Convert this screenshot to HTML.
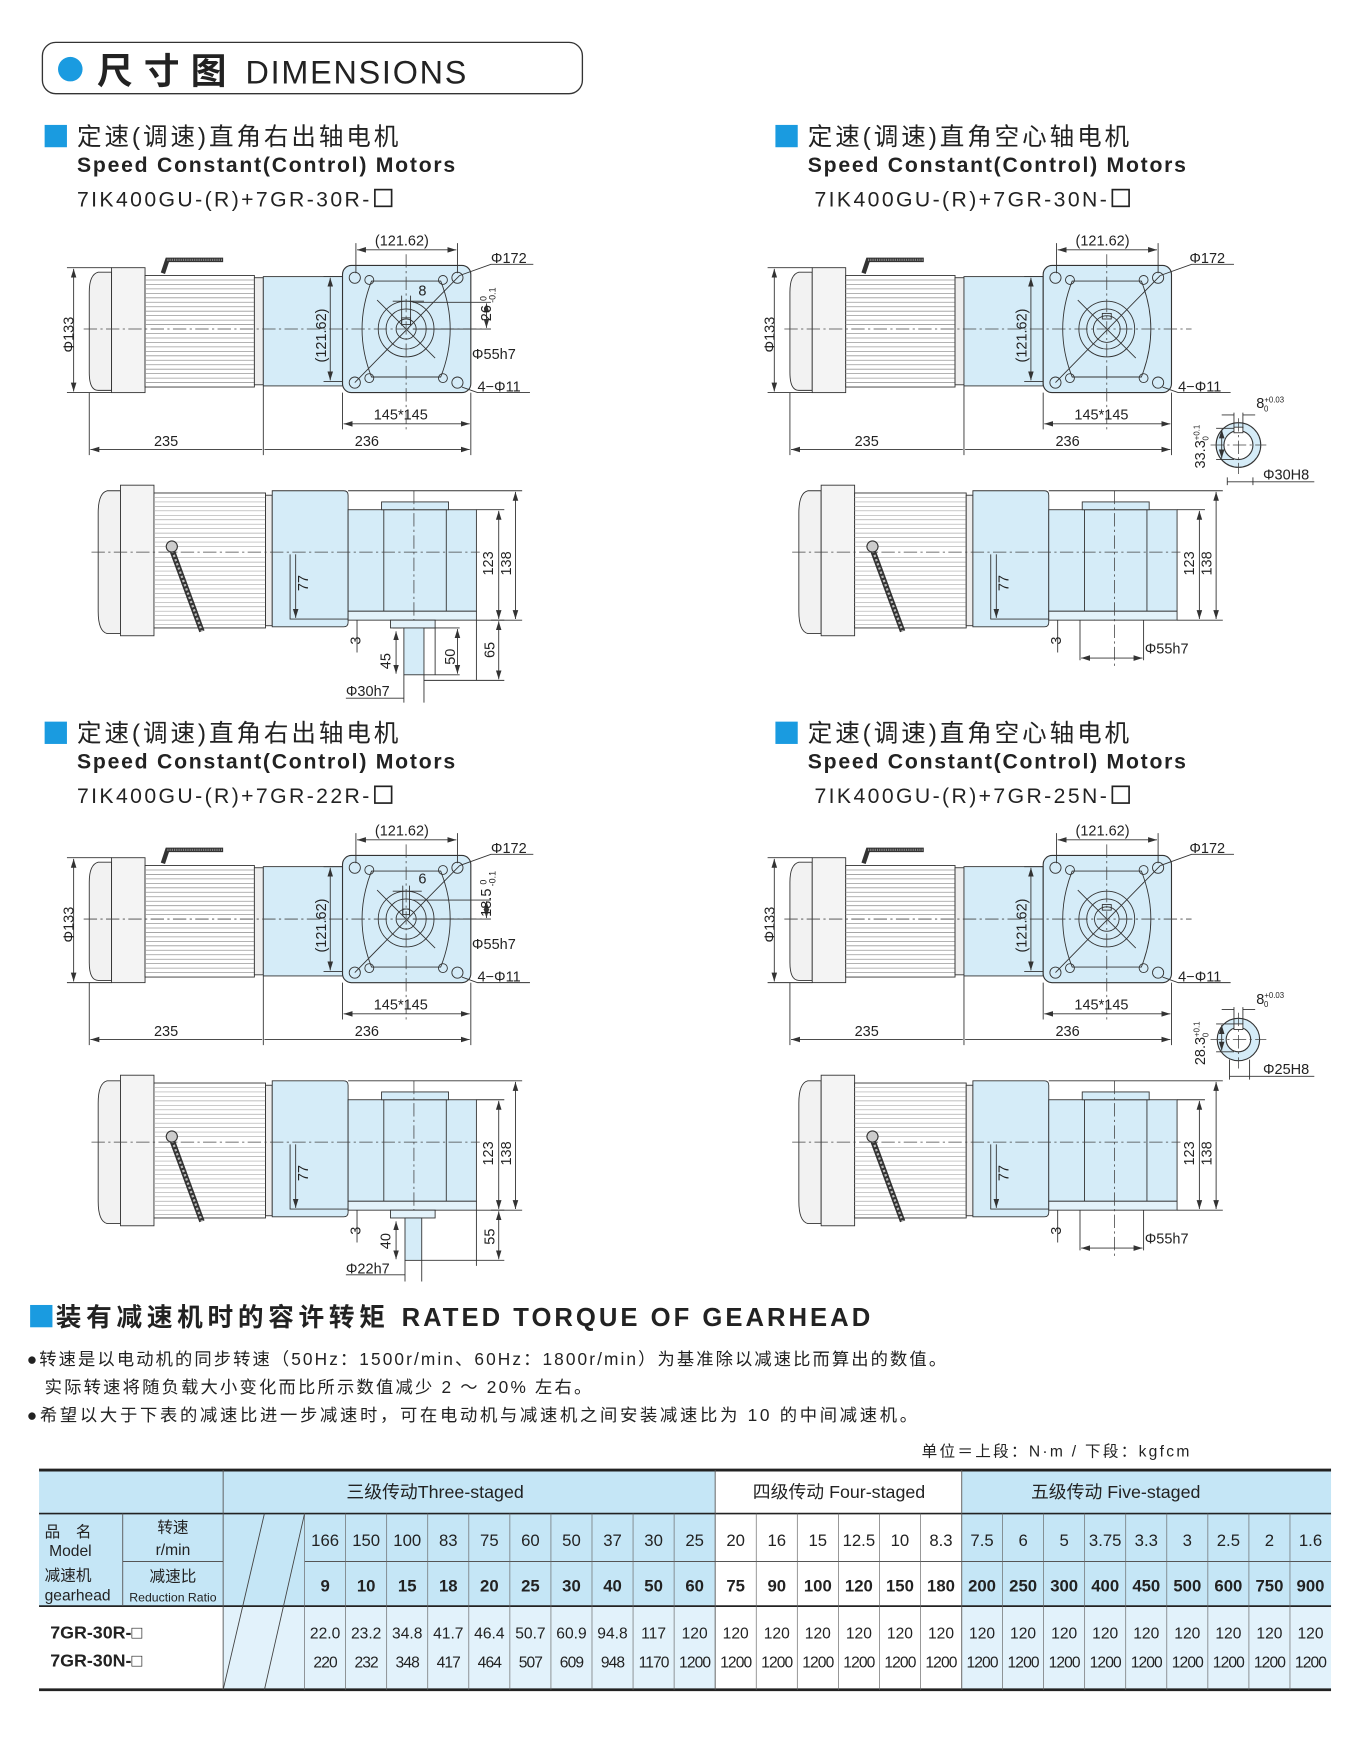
<!DOCTYPE html>
<html><head><meta charset="utf-8"><style>
html,body{margin:0;padding:0;background:#fff}
svg{display:block}
text{font-family:"Liberation Sans","Noto Sans CJK SC",sans-serif;fill:#222}
.d{font-size:13px}
.cn{font-family:"Liberation Sans","Noto Sans CJK SC",sans-serif}
.ln{stroke:#333;stroke-width:0.8;fill:none}
.cl{stroke:#444;stroke-width:0.7;stroke-dasharray:12 3 2 3;fill:none}
.tb{font-size:15px;text-anchor:middle}
</style></head><body>
<svg width="1350" height="1750" viewBox="0 0 1210 1569" preserveAspectRatio="none" xmlns="http://www.w3.org/2000/svg">
<defs>
<marker id="ar" markerWidth="8" markerHeight="6" refX="8" refY="3" orient="auto-start-reverse" markerUnits="userSpaceOnUse"><path d="M0,0.5 L8,3 L0,5.5" fill="#333"/></marker>
<g id="fv">
 <path d="M100,244 L88,244 Q80,246 80,262 L80,334 Q80,350 88,350 L100,350 Z" fill="#f2f2f2" stroke="#333" stroke-width="0.8"/>
 <rect x="100" y="240" width="30" height="112" fill="#f4f4f4" stroke="#333" stroke-width="0.8"/>
 <rect x="130" y="247" width="98" height="100" fill="#fff" stroke="#333" stroke-width="0.8"/>
 <path d="M130,251H228M130,255H228M130,259H228M130,263H228M130,267H228M130,271H228M130,275H228M130,279H228M130,283H228M130,287H228M130,291H228M130,299H228M130,303H228M130,307H228M130,311H228M130,315H228M130,319H228M130,323H228M130,327H228M130,331H228M130,335H228M130,339H228M130,343H228" stroke="#999" stroke-width="0.7"/>
 <rect x="228" y="249" width="8" height="96" fill="#eee" stroke="#333" stroke-width="0.8"/>
 <rect x="236" y="248" width="71" height="98" fill="#d5ecf8" stroke="#333" stroke-width="0.8"/>
 <path d="M146,245 L150,233 L200,233" stroke="#333" stroke-width="4" fill="none"/>
 <path d="M150,233 L200,233" stroke="#888" stroke-width="2" stroke-dasharray="1 1" fill="none"/>
 <rect x="307" y="238" width="115" height="114" rx="8" fill="#d5ecf8" stroke="#333" stroke-width="1"/>
 <path d="M333,252 Q316,295 333,338 L395,338 Q412,295 395,252 Z" class="ln"/>
 <circle cx="318" cy="249" r="5" class="ln"/><circle cx="410" cy="249" r="5" class="ln"/>
 <circle cx="318" cy="343" r="5" class="ln"/><circle cx="410" cy="343" r="5" class="ln"/>
 <circle cx="331" cy="251" r="4" class="ln"/><circle cx="397" cy="251" r="4" class="ln"/>
 <circle cx="331" cy="339" r="4" class="ln"/><circle cx="397" cy="339" r="4" class="ln"/>
 <circle cx="364" cy="295" r="25" class="ln"/><circle cx="364" cy="295" r="18" class="ln"/>
 <path d="M318,343 L412,247" class="ln"/><path d="M338,269 L390,321" class="ln"/>
 <path d="M75,295 H440" class="cl"/><path d="M364,228 V386" class="cl"/>
 <path d="M60,240 H100 M60,352 H100" class="ln"/>
 <path d="M66,241 V351" class="ln" marker-start="url(#ar)" marker-end="url(#ar)"/>
 <path d="M80,352 V408 M236,346 V408 M422,352 V408 M307,352 V385" class="ln"/>
 <path d="M81,403 H235 M237,403 H421" class="ln" marker-start="url(#ar)" marker-end="url(#ar)"/>
 <path d="M308,380 H421" class="ln" marker-start="url(#ar)" marker-end="url(#ar)"/>
 <path d="M319,218 V245 M410,218 V245" class="ln"/>
 <path d="M320,224 H409" class="ln" marker-start="url(#ar)" marker-end="url(#ar)"/>
 <path d="M290,248 H307 M290,342 H307" class="ln"/>
 <path d="M296,249 V341" class="ln" marker-start="url(#ar)" marker-end="url(#ar)"/>
 <path d="M412,247 L440,237 H478" class="ln"/>
 <path d="M414,347 L428,352 H475" class="ln"/>
</g>
<g id="sv">
 <path d="M108,440 L96,440 Q88,442 88,460 L88,548 Q88,566 96,568 L108,568 Z" fill="#f2f2f2" stroke="#333" stroke-width="0.8"/>
 <rect x="108" y="435" width="30" height="135" fill="#f4f4f4" stroke="#333" stroke-width="0.8"/>
 <rect x="138" y="442" width="100" height="121" fill="#fff" stroke="#333" stroke-width="0.8"/>
 <path d="M138,446H238M138,450H238M138,454H238M138,458H238M138,462H238M138,466H238M138,470H238M138,474H238M138,478H238M138,482H238M138,486H238M138,490H238M138,500H238M138,504H238M138,508H238M138,512H238M138,516H238M138,520H238M138,524H238M138,528H238M138,532H238M138,536H238M138,540H238M138,544H238M138,548H238M138,552H238M138,556H238M138,560H238" stroke="#aaa" stroke-width="0.6"/>
 <rect x="238" y="444" width="6" height="117" fill="#eee" stroke="#333" stroke-width="0.8"/>
 <path d="M244,440 H308 Q312,440 312,444 V558 Q312,562 308,562 H244 Z" fill="#d5ecf8" stroke="#333" stroke-width="0.8"/>
 <rect x="312" y="457" width="115" height="91" fill="#d5ecf8" stroke="#333" stroke-width="0.8"/>
 <rect x="342" y="450" width="60" height="7" fill="#d5ecf8" stroke="#333" stroke-width="0.8"/>
 <path d="M344,457 V548 M400,457 V548" class="ln"/>
 <rect x="312" y="548" width="115" height="8" fill="#e3f2fa" stroke="#333" stroke-width="0.8"/>
 <path d="M153,490 L181,566" stroke="#333" stroke-width="5"/>
 <path d="M153,490 L181,566" stroke="#bbb" stroke-width="2" stroke-dasharray="2 2"/>
 <circle cx="154" cy="490" r="5" fill="#ccc" stroke="#333"/>
 <path d="M82,495 H430" class="cl"/><path d="M371,440 V600" class="cl"/>
 <path d="M312,440 H468 M427,457 H452 M427,556 H468" class="ln"/>
 <path d="M447,458 V555" class="ln" marker-start="url(#ar)" marker-end="url(#ar)"/>
 <path d="M462,441 V555" class="ln" marker-start="url(#ar)" marker-end="url(#ar)"/>
 <path d="M260,497 V555 H312" class="ln"/>
 <path d="M265,497 V554" class="ln" marker-end="url(#ar)"/>
 <path d="M320,556 V585" class="ln"/>
</g>
</defs>

<!-- header -->
<rect x="38" y="38" width="484" height="46" rx="12" fill="#fff" stroke="#333" stroke-width="1.2"/>
<circle cx="63" cy="62" r="11" fill="#1a9be0"/>
<text x="87" y="75" class="cn" style="font-size:32px;font-weight:bold" textLength="116">尺寸图</text>
<text x="220" y="75" style="font-size:29px" textLength="198">DIMENSIONS</text>

<!-- section titles -->
<rect x="40" y="112" width="20" height="20" fill="#1a9be0"/>
<text x="69" y="130" class="cn" style="font-size:22px" textLength="288">定速(调速)直角右出轴电机</text>
<text x="69" y="154" style="font-size:19px;font-weight:bold" textLength="339">Speed Constant(Control) Motors</text>
<text x="69" y="185" style="font-size:19px" textLength="262">7IK400GU-(R)+7GR-30R-</text><rect x="336" y="170" width="15" height="15" fill="none" stroke="#222" stroke-width="1.5"/>

<rect x="695" y="112" width="20" height="20" fill="#1a9be0"/>
<text x="724" y="130" class="cn" style="font-size:22px" textLength="288">定速(调速)直角空心轴电机</text>
<text x="724" y="154" style="font-size:19px;font-weight:bold" textLength="339">Speed Constant(Control) Motors</text>
<text x="730" y="185" style="font-size:19px" textLength="262">7IK400GU-(R)+7GR-30N-</text><rect x="997" y="170" width="15" height="15" fill="none" stroke="#222" stroke-width="1.5"/>

<rect x="40" y="647" width="20" height="20" fill="#1a9be0"/>
<text x="69" y="665" class="cn" style="font-size:22px" textLength="288">定速(调速)直角右出轴电机</text>
<text x="69" y="689" style="font-size:19px;font-weight:bold" textLength="339">Speed Constant(Control) Motors</text>
<text x="69" y="720" style="font-size:19px" textLength="262">7IK400GU-(R)+7GR-22R-</text><rect x="336" y="705" width="15" height="15" fill="none" stroke="#222" stroke-width="1.5"/>

<rect x="695" y="647" width="20" height="20" fill="#1a9be0"/>
<text x="724" y="665" class="cn" style="font-size:22px" textLength="288">定速(调速)直角空心轴电机</text>
<text x="724" y="689" style="font-size:19px;font-weight:bold" textLength="339">Speed Constant(Control) Motors</text>
<text x="730" y="720" style="font-size:19px" textLength="262">7IK400GU-(R)+7GR-25N-</text><rect x="997" y="705" width="15" height="15" fill="none" stroke="#222" stroke-width="1.5"/>

<!-- panel 1 top-left -->
<use href="#fv"/>
<circle cx="364" cy="295" r="9" class="ln"/><rect x="360" y="285" width="8" height="6" class="ln"/>
<path d="M352,270 H380 M360,265 V292 M368,265 V292" class="ln"/>
<path d="M370,295 H440 M370,271 H440" class="ln"/>
<path d="M436,272 V294" class="ln" marker-start="url(#ar)" marker-end="url(#ar)"/>
<use href="#sv"/>
<rect x="350" y="556" width="40" height="7" fill="#e3f2fa" stroke="#333" stroke-width="0.8"/>
<rect x="362" y="563" width="18" height="42" fill="#d5ecf8" stroke="#333" stroke-width="0.8"/>
<path d="M362,605 V630 M380,605 V630 M352,563 H360 M380,605 H412 M380,563 H412 M390,563 V605 M427,556 V610 M440,556 H452 M380,610 H452" class="ln"/>
<path d="M355,566 V604" class="ln" marker-start="url(#ar)" marker-end="url(#ar)"/>
<path d="M410,564 V604" class="ln" marker-start="url(#ar)" marker-end="url(#ar)"/>
<path d="M447,557 V609" class="ln" marker-start="url(#ar)" marker-end="url(#ar)"/>
<path d="M310,626 H362" class="ln"/>
<g class="d">
<text x="336" y="220">(121.62)</text>
<text x="440" y="236">Φ172</text>
<text x="423" y="322">Φ55h7</text>
<text x="428" y="351">4−Φ11</text>
<text x="335" y="376">145*145</text>
<text x="138" y="400">235</text>
<text x="318" y="400">236</text>
<text x="375" y="265">8</text>
<text transform="translate(66,316) rotate(-90)">Φ133</text>
<text transform="translate(292,325) rotate(-90)">(121.62)</text>
<text transform="translate(440,288) rotate(-90)">26 <tspan style="font-size:8px" dy="-4">0</tspan><tspan style="font-size:8px" dy="8" dx="-6">-0.1</tspan></text>
<text transform="translate(276,530) rotate(-90)">77</text>
<text transform="translate(442,516) rotate(-90)">123</text>
<text transform="translate(458,516) rotate(-90)">138</text>
<text transform="translate(323,578) rotate(-90)">3</text>
<text transform="translate(350,600) rotate(-90)">45</text>
<text transform="translate(408,596) rotate(-90)">50</text>
<text transform="translate(443,590) rotate(-90)">65</text>
<text x="310" y="624">Φ30h7</text>
</g>

<!-- panel 2 top-right -->
<g transform="translate(628,0)">
<use href="#fv"/>
<circle cx="364" cy="295" r="12" class="ln"/><rect x="360" y="281" width="8" height="5" class="ln"/>
<use href="#sv"/>
<path d="M340,556 V592 M397,556 V592" class="ln"/>
<path d="M341,590 H396" class="ln" marker-start="url(#ar)" marker-end="url(#ar)"/>
</g>
<circle cx="1110" cy="399" r="20" fill="#d5ecf8" stroke="#333"/>
<circle cx="1110" cy="399" r="13" fill="#fff" stroke="#333"/>
<rect x="1106" y="383" width="8" height="5" fill="#fff" stroke="#333" stroke-width="0.8"/>
<path d="M1085,399 H1135 M1110,375 V425" class="cl"/>
<path d="M1090,384 H1106 M1090,412 H1106 M1106,370 V384 M1114,370 V384 M1100,428 V435 M1123,428 V435" class="ln"/>
<path d="M1095,385 V411" class="ln" marker-start="url(#ar)" marker-end="url(#ar)"/>
<path d="M1095,372 H1106 M1114,372 H1125" class="ln"/>
<path d="M1100,432 H1178" class="ln"/>
<g class="d">
<text x="964" y="220">(121.62)</text>
<text x="1066" y="236">Φ172</text>
<text x="1056" y="351">4−Φ11</text>
<text x="963" y="376">145*145</text>
<text x="766" y="400">235</text>
<text x="946" y="400">236</text>
<text transform="translate(694,316) rotate(-90)">Φ133</text>
<text transform="translate(920,325) rotate(-90)">(121.62)</text>
<text x="1126" y="366">8<tspan style="font-size:7px" dy="-5">+0.03</tspan><tspan style="font-size:7px" dy="8" dx="-18">0</tspan></text>
<text transform="translate(1080,420) rotate(-90)">33.3<tspan style="font-size:7px" dy="-5">+0.1</tspan><tspan style="font-size:7px" dy="8" dx="-14">0</tspan></text>
<text x="1132" y="430">Φ30H8</text>
<text transform="translate(904,530) rotate(-90)">77</text>
<text transform="translate(1070,516) rotate(-90)">123</text>
<text transform="translate(1086,516) rotate(-90)">138</text>
<text transform="translate(951,578) rotate(-90)">3</text>
<text x="1026" y="586">Φ55h7</text>
</g>

<!-- panel 3 bottom-left -->
<g transform="translate(0,529)">
<use href="#fv"/>
<circle cx="364" cy="295" r="9" class="ln"/><rect x="361" y="286" width="6" height="5" class="ln"/>
<path d="M352,270 H378 M361,265 V292 M367,265 V292 M370,295 H440 M370,278 H440" class="ln"/>
<path d="M436,279 V294" class="ln" marker-start="url(#ar)" marker-end="url(#ar)"/>
<use href="#sv"/>
<rect x="350" y="556" width="40" height="7" fill="#e3f2fa" stroke="#333" stroke-width="0.8"/>
<rect x="363" y="563" width="15" height="38" fill="#d5ecf8" stroke="#333" stroke-width="0.8"/>
<path d="M363,601 V620 M378,601 V620 M378,601 H452 M427,556 V606 M440,556 H452 M310,614 H363" class="ln"/>
<path d="M355,566 V600" class="ln" marker-start="url(#ar)" marker-end="url(#ar)"/>
<path d="M447,557 V600" class="ln" marker-start="url(#ar)" marker-end="url(#ar)"/>
</g>
<g class="d">
<text x="336" y="749">(121.62)</text>
<text x="440" y="765">Φ172</text>
<text x="423" y="851">Φ55h7</text>
<text x="428" y="880">4−Φ11</text>
<text x="335" y="905">145*145</text>
<text x="138" y="929">235</text>
<text x="318" y="929">236</text>
<text x="375" y="792">6</text>
<text transform="translate(66,845) rotate(-90)">Φ133</text>
<text transform="translate(292,854) rotate(-90)">(121.62)</text>
<text transform="translate(440,822) rotate(-90)">18.5 <tspan style="font-size:8px" dy="-4">0</tspan><tspan style="font-size:8px" dy="8" dx="-6">-0.1</tspan></text>
<text transform="translate(276,1059) rotate(-90)">77</text>
<text transform="translate(442,1045) rotate(-90)">123</text>
<text transform="translate(458,1045) rotate(-90)">138</text>
<text transform="translate(323,1107) rotate(-90)">3</text>
<text transform="translate(350,1120) rotate(-90)">40</text>
<text transform="translate(443,1116) rotate(-90)">55</text>
<text x="310" y="1142">Φ22h7</text>
</g>

<!-- panel 4 bottom-right -->
<g transform="translate(628,529)">
<use href="#fv"/>
<circle cx="364" cy="295" r="11" class="ln"/><rect x="360" y="282" width="8" height="5" class="ln"/>
<use href="#sv"/>
<path d="M340,556 V592 M397,556 V592" class="ln"/>
<path d="M341,590 H396" class="ln" marker-start="url(#ar)" marker-end="url(#ar)"/>
</g>
<circle cx="1110" cy="932" r="19" fill="#d5ecf8" stroke="#333"/>
<circle cx="1110" cy="932" r="11" fill="#fff" stroke="#333"/>
<rect x="1106" y="918" width="8" height="5" fill="#fff" stroke="#333" stroke-width="0.8"/>
<path d="M1085,932 H1135 M1110,908 V958" class="cl"/>
<path d="M1090,918 H1106 M1090,943 H1106 M1106,903 V918 M1114,903 V918 M1102,950 V968 M1120,950 V968" class="ln"/>
<path d="M1095,919 V942" class="ln" marker-start="url(#ar)" marker-end="url(#ar)"/>
<path d="M1095,905 H1106 M1114,905 H1125 M1102,965 H1178" class="ln"/>
<g class="d">
<text x="964" y="749">(121.62)</text>
<text x="1066" y="765">Φ172</text>
<text x="1056" y="880">4−Φ11</text>
<text x="963" y="905">145*145</text>
<text x="766" y="929">235</text>
<text x="946" y="929">236</text>
<text transform="translate(694,845) rotate(-90)">Φ133</text>
<text transform="translate(920,854) rotate(-90)">(121.62)</text>
<text x="1126" y="900">8<tspan style="font-size:7px" dy="-5">+0.03</tspan><tspan style="font-size:7px" dy="8" dx="-18">0</tspan></text>
<text transform="translate(1080,955) rotate(-90)">28.3<tspan style="font-size:7px" dy="-5">+0.1</tspan><tspan style="font-size:7px" dy="8" dx="-14">0</tspan></text>
<text x="1132" y="963">Φ25H8</text>
<text transform="translate(904,1059) rotate(-90)">77</text>
<text transform="translate(1070,1045) rotate(-90)">123</text>
<text transform="translate(1086,1045) rotate(-90)">138</text>
<text transform="translate(951,1107) rotate(-90)">3</text>
<text x="1026" y="1115">Φ55h7</text>
</g>

<!-- torque section -->
<rect x="27" y="1170" width="20" height="20" fill="#1a9be0"/>
<text x="50" y="1189" class="cn" style="font-size:23px;font-weight:bold" textLength="295">装有减速机时的容许转矩</text>
<text x="360" y="1189" style="font-size:23px;font-weight:bold" textLength="420">RATED TORQUE OF GEARHEAD</text>
<g class="cn" style="font-size:15.5px">
<text x="24" y="1224" textLength="824">●转速是以电动机的同步转速（50Hz：1500r/min、60Hz：1800r/min）为基准除以减速比而算出的数值。</text>
<text x="40" y="1249" textLength="490">实际转速将随负载大小变化而比所示数值减少 2 ～ 20% 左右。</text>
<text x="24" y="1274" textLength="798">●希望以大于下表的减速比进一步减速时，可在电动机与减速机之间安装减速比为 10 的中间减速机。</text>
</g>
<text x="826" y="1306" class="cn" style="font-size:14px" textLength="240">单位＝上段：N·m / 下段：kgfcm</text>

<!-- table -->
<rect x="35" y="1318" width="606" height="122" fill="#c5e6f6"/>
<rect x="862" y="1318" width="331" height="122" fill="#c5e6f6"/>
<rect x="200" y="1440" width="441" height="75" fill="#e2f2fb"/>
<rect x="862" y="1440" width="331" height="75" fill="#e2f2fb"/>
<path d="M35,1318 H1193 M35,1515 H1193" stroke="#222" stroke-width="2.5"/>
<path d="M35,1357 H1193 M35,1440 H1193" stroke="#222" stroke-width="1.5"/>
<path d="M110,1400 H200 M273,1400 H1193" stroke="#555" stroke-width="1"/>
<path d="M200,1318 V1515 M641,1318 V1515 M862,1318 V1515 M110,1357 V1440" stroke="#555" stroke-width="0.8"/>
<path d="M237,1357 L200,1515 M273,1357 L237,1515" stroke="#444" stroke-width="0.8"/>
<path d="M273,1357V1515M309.8,1357V1515M346.6,1357V1515M383.4,1357V1515M420.2,1357V1515M457,1357V1515M493.8,1357V1515M530.6,1357V1515M567.4,1357V1515M604.2,1357V1515M677.8,1357V1515M714.6,1357V1515M751.4,1357V1515M788.2,1357V1515M825,1357V1515M898.6,1357V1515M935.4,1357V1515M972.2,1357V1515M1009,1357V1515M1045.8,1357V1515M1082.6,1357V1515M1119.4,1357V1515M1156.2,1357V1515" stroke="#666" stroke-width="0.6"/>
<g class="cn" style="font-size:16px" text-anchor="middle">
<text x="390" y="1343">三级传动Three-staged</text>
<text x="752" y="1343">四级传动 Four-staged</text>
<text x="1000" y="1343">五级传动 Five-staged</text>
</g>
<g class="cn" style="font-size:14px">
<text x="40" y="1378">品　名</text>
<text x="44" y="1395">Model</text>
<text x="40" y="1417">减速机</text>
<text x="40" y="1435">gearhead</text>
<text x="155" y="1374" text-anchor="middle">转速</text>
<text x="155" y="1394" text-anchor="middle">r/min</text>
<text x="155" y="1418" text-anchor="middle">减速比</text>
<text x="155" y="1436" text-anchor="middle" style="font-size:11px">Reduction Ratio</text>
</g>
<g class="tb">
<text x="291.4" y="1386">166</text><text x="328.2" y="1386">150</text><text x="365" y="1386">100</text><text x="401.8" y="1386">83</text><text x="438.6" y="1386">75</text><text x="475.4" y="1386">60</text><text x="512.2" y="1386">50</text><text x="549" y="1386">37</text><text x="585.8" y="1386">30</text><text x="622.6" y="1386">25</text><text x="659.4" y="1386">20</text><text x="696.2" y="1386">16</text><text x="733" y="1386">15</text><text x="769.8" y="1386">12.5</text><text x="806.6" y="1386">10</text><text x="843.4" y="1386">8.3</text><text x="880.2" y="1386">7.5</text><text x="917" y="1386">6</text><text x="953.8" y="1386">5</text><text x="990.6" y="1386">3.75</text><text x="1027.4" y="1386">3.3</text><text x="1064.2" y="1386">3</text><text x="1101" y="1386">2.5</text><text x="1137.8" y="1386">2</text><text x="1174.6" y="1386">1.6</text>
</g>
<g class="tb" style="font-weight:bold">
<text x="291.4" y="1427">9</text><text x="328.2" y="1427">10</text><text x="365" y="1427">15</text><text x="401.8" y="1427">18</text><text x="438.6" y="1427">20</text><text x="475.4" y="1427">25</text><text x="512.2" y="1427">30</text><text x="549" y="1427">40</text><text x="585.8" y="1427">50</text><text x="622.6" y="1427">60</text><text x="659.4" y="1427">75</text><text x="696.2" y="1427">90</text><text x="733" y="1427">100</text><text x="769.8" y="1427">120</text><text x="806.6" y="1427">150</text><text x="843.4" y="1427">180</text><text x="880.2" y="1427">200</text><text x="917" y="1427">250</text><text x="953.8" y="1427">300</text><text x="990.6" y="1427">400</text><text x="1027.4" y="1427">450</text><text x="1064.2" y="1427">500</text><text x="1101" y="1427">600</text><text x="1137.8" y="1427">750</text><text x="1174.6" y="1427">900</text>
</g>
<g style="font-size:16px;font-weight:bold">
<text x="45" y="1469">7GR-30R-□</text>
<text x="45" y="1494">7GR-30N-□</text>
</g>
<g class="tb" style="font-size:14px">
<text x="291.4" y="1469">22.0</text><text x="328.2" y="1469">23.2</text><text x="365" y="1469">34.8</text><text x="401.8" y="1469">41.7</text><text x="438.6" y="1469">46.4</text><text x="475.4" y="1469">50.7</text><text x="512.2" y="1469">60.9</text><text x="549" y="1469">94.8</text><text x="585.8" y="1469">117</text><text x="622.6" y="1469">120</text><text x="659.4" y="1469">120</text><text x="696.2" y="1469">120</text><text x="733" y="1469">120</text><text x="769.8" y="1469">120</text><text x="806.6" y="1469">120</text><text x="843.4" y="1469">120</text><text x="880.2" y="1469">120</text><text x="917" y="1469">120</text><text x="953.8" y="1469">120</text><text x="990.6" y="1469">120</text><text x="1027.4" y="1469">120</text><text x="1064.2" y="1469">120</text><text x="1101" y="1469">120</text><text x="1137.8" y="1469">120</text><text x="1174.6" y="1469">120</text>
</g>
<g class="tb" style="font-size:14px" letter-spacing="-0.8">
<text x="291.4" y="1495">220</text><text x="328.2" y="1495">232</text><text x="365" y="1495">348</text><text x="401.8" y="1495">417</text><text x="438.6" y="1495">464</text><text x="475.4" y="1495">507</text><text x="512.2" y="1495">609</text><text x="549" y="1495">948</text><text x="585.8" y="1495">1170</text><text x="622.6" y="1495">1200</text><text x="659.4" y="1495">1200</text><text x="696.2" y="1495">1200</text><text x="733" y="1495">1200</text><text x="769.8" y="1495">1200</text><text x="806.6" y="1495">1200</text><text x="843.4" y="1495">1200</text><text x="880.2" y="1495">1200</text><text x="917" y="1495">1200</text><text x="953.8" y="1495">1200</text><text x="990.6" y="1495">1200</text><text x="1027.4" y="1495">1200</text><text x="1064.2" y="1495">1200</text><text x="1101" y="1495">1200</text><text x="1137.8" y="1495">1200</text><text x="1174.6" y="1495">1200</text>
</g>
</svg>
</body></html>
